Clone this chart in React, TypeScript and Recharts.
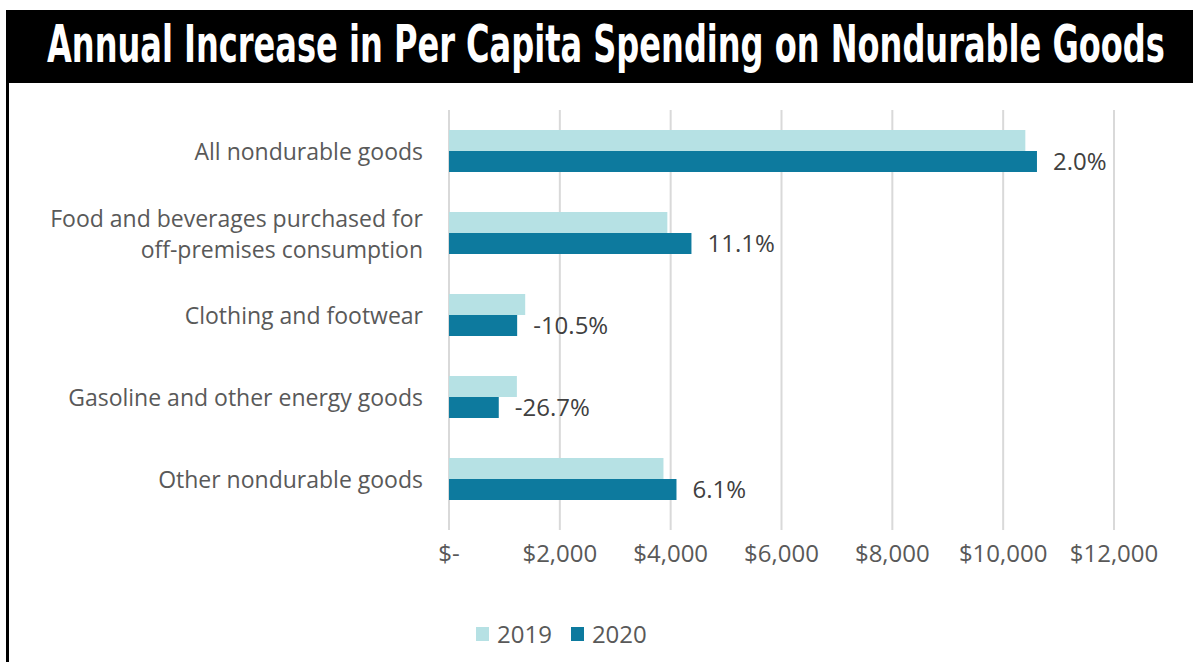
import React, { useLayoutEffect, useRef, useState } from 'react';
import { BarChart, Bar, XAxis, YAxis, CartesianGrid, LabelList } from 'recharts';

const categories = [
    'All nondurable goods',
    'Food and beverages purchased for off-premises consumption',
    'Clothing and footwear',
    'Gasoline and other energy goods',
    'Other nondurable goods',
];
const spending2019 = [10400, 3940, 1375, 1225, 3870];
const spending2020 = [10610, 4375, 1230, 898, 4105];
const pctChange = ['2.0%', '11.1%', '-10.5%', '-26.7%', '6.1%'];
const xTicks = [0, 2000, 4000, 6000, 8000, 10000, 12000];

const series = [
    { key: 'y2019', name: '2019', color: '#b6e1e4' },
    { key: 'y2020', name: '2020', color: '#0d7a9e' },
];

const data = categories.map((name, i) => ({
    name,
    y2019: spending2019[i],
    y2020: spending2020[i],
    pct: pctChange[i],
}));

const FONT = '"Open Sans", "Noto Sans", sans-serif';
const TITLE = 'Annual Increase in Per Capita Spending on Nondurable Goods';
const TITLE_WIDTH = 1118;

// greedy word wrap for the long category names
const wrap = (text: string, max: number) => {
    const lines: string[] = [];
    let cur = '';
    text.split(' ').forEach((w) => {
        if (cur && (cur + ' ' + w).length > max) {
            lines.push(cur);
            cur = w;
        } else {
            cur = cur ? cur + ' ' + w : w;
        }
    });
    if (cur) lines.push(cur);
    return lines;
};

const CategoryTick = (props: any) => {
    const { x, y, payload } = props;
    const lines = wrap(payload.value, 32);
    const lh = 31;
    const startY = y - ((lines.length - 1) * lh) / 2;
    return (
        <text x={x} y={startY} textAnchor="end" fill="#595959" fontSize={23} fontFamily={FONT} dominantBaseline="central">
            {lines.map((l, i) => (
                <tspan key={i} x={x} dy={i === 0 ? 0 : lh}>
                    {l}
                </tspan>
            ))}
        </text>
    );
};

const money = (v: number) => (v === 0 ? '$-' : '$' + v.toLocaleString('en-US'));

const Title: React.FC = () => {
    const ref = useRef<SVGTextElement>(null);
    const [sx, setSx] = useState(0.7);
    useLayoutEffect(() => {
        if (ref.current) {
            const w = ref.current.getBBox().width;
            if (w > 0) setSx(TITLE_WIDTH / w);
        }
    }, []);
    return (
        <svg width={1193} height={90} style={{ position: 'absolute', left: 0, top: 0 }}>
            <text
                ref={ref}
                x={0}
                y={0}
                transform={`translate(47,62) scale(${sx},1)`}
                fill="#fff"
                fontSize={52}
                fontWeight="bold"
                fontFamily='"Liberation Sans Narrow", "DejaVu Sans Condensed", sans-serif'
            >
                {TITLE}
            </text>
        </svg>
    );
};

const App: React.FC = () => {
    return (
        <div style={{ position: 'absolute', left: 0, top: 0, width: 1193, height: 662, background: '#fff', overflow: 'hidden' }}>
            {/* title banner */}
            <div style={{ position: 'absolute', left: 6, top: 10, width: 1187, height: 73, background: '#000' }} />
            <Title />
            <div style={{ position: 'absolute', left: 6, top: 10, width: 3, height: 652, background: '#000' }} />

            <div style={{ position: 'absolute', left: 0, top: 0 }}>
                <BarChart
                    width={1193}
                    height={662}
                    data={data}
                    layout="vertical"
                    margin={{ top: 110, right: 79, bottom: 92, left: 0 }}
                    barCategoryGap={20}
                    barGap={0}
                >
                    <CartesianGrid horizontal={false} stroke="#d9d9d9" strokeWidth={2} />
                    <XAxis
                        type="number"
                        domain={[0, 12000]}
                        ticks={xTicks}
                        interval={0}
                        tickFormatter={money}
                        axisLine={false}
                        tickLine={false}
                        tickSize={0}
                        tickMargin={15}
                        height={40}
                        tick={{ fill: '#595959', fontSize: 24, fontFamily: FONT }}
                    />
                    <YAxis
                        type="category"
                        dataKey="name"
                        width={449}
                        interval={0}
                        axisLine={false}
                        tickLine={false}
                        tickSize={0}
                        tickMargin={26}
                        padding={{ top: 0, bottom: 10 }}
                        tick={<CategoryTick />}
                    />
                    <Bar dataKey="y2019" name="2019" fill={series[0].color} isAnimationActive={false} />
                    <Bar dataKey="y2020" name="2020" fill={series[1].color} isAnimationActive={false}>
                        <LabelList
                            dataKey="pct"
                            position="right"
                            offset={16}
                            fill="#404040"
                            fontSize={24}
                            fontFamily={FONT}
                        />
                    </Bar>
                </BarChart>
            </div>

            {/* legend */}
            <div
                style={{
                    position: 'absolute',
                    left: 476,
                    top: 617,
                    display: 'flex',
                    alignItems: 'center',
                    fontFamily: FONT,
                    fontSize: 24,
                    color: '#595959',
                }}
            >
                {series.map((s) => (
                    <div key={s.key} style={{ display: 'flex', alignItems: 'center', marginRight: 19 }}>
                        <span style={{ display: 'inline-block', width: 13, height: 14, background: s.color, marginRight: 8 }} />
                        <span>{s.name}</span>
                    </div>
                ))}
            </div>
        </div>
    );
};

export default App;
